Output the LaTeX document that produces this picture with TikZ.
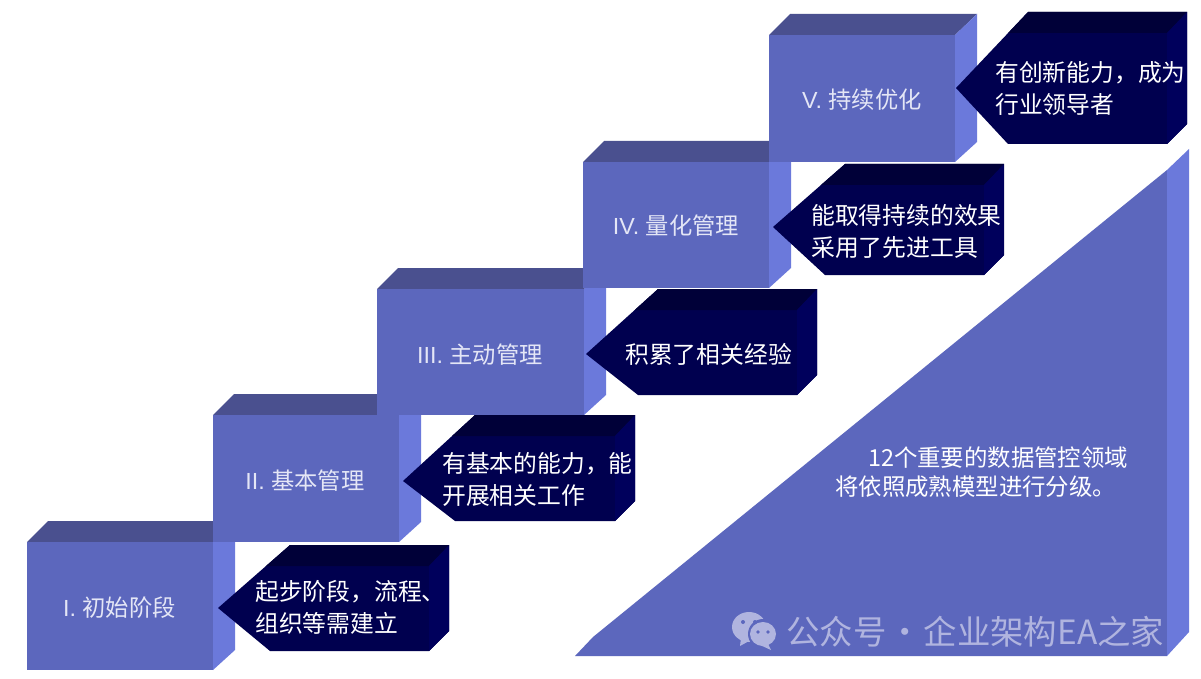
\documentclass[tikz,border=0pt]{standalone}
\usepackage{fontspec}
\setmainfont{Liberation Sans}
\newfontfamily\cjk{Noto Sans CJK SC}
\definecolor{bfront}{HTML}{5C67BD}
\definecolor{bside}{HTML}{6B79DB}
\definecolor{btop}{HTML}{4A508F}
\definecolor{cfront}{HTML}{00004F}
\definecolor{cside}{HTML}{00005C}
\definecolor{ctop}{HTML}{000038}
\definecolor{wm}{HTML}{B0B4DF}
\definecolor{lbl}{HTML}{E4E6F6}
\tikzset{
  x=1pt,y=-1pt,
  boxlabel/.style={text=lbl,font=\fontsize{23.3}{27}\selectfont,inner sep=0pt},
  calllabel/.style={text=white,font=\cjk\fontsize{23.8}{32}\selectfont,align=left,anchor=west,inner sep=0pt},
  arealabel/.style={text=white,font=\cjk\fontsize{23.4}{29}\selectfont,align=left,anchor=west,inner sep=0pt},
  wmlabel/.style={text=wm,font=\cjk\fontsize{33.4}{36}\selectfont,anchor=west,inner sep=0pt},
}
% box: x0 y0 x1 y1 of the front face
\newcommand{\stepblock}[4]{%
  \fill[btop] (#1,#2) -- (#1+21,#2-21) -- (#3+22,#2-21) -- (#3,#2) -- cycle;
  \fill[bside] (#3,#2) -- (#3+22,#2-21) -- (#3+22,#4-20) -- (#3,#4) -- cycle;
  \fill[bfront] (#1,#2) rectangle (#3,#4);
}
% callout: tip x, tip y, top-left x, top y, right x, bottom y, bottom-left x
\newcommand{\callblock}[7]{%
  \fill[cfront] (#1,#2) -- (#3,#4) -- (#5,#4) -- (#5,#6-20) -- (#5-20,#6) -- (#7,#6) -- cycle;
  \begin{scope}
    \clip (#1,#2) -- (#3,#4) -- (#5,#4) -- (#5,#6-20) -- (#5-20,#6) -- (#7,#6) -- cycle;
    \fill[ctop] (#3,#4) -- (#5,#4) -- (#5-20,#4+21) -- (#3-40,#4+21) -- cycle;
    \fill[cside] (#5,#4) -- (#5,#6-20) -- (#5-20,#6) -- (#5-20,#4+21) -- cycle;
  \end{scope}
}
\begin{document}
\begin{tikzpicture}
\useasboundingbox (0,0) rectangle (1201,679);
\fill[white] (0,0) rectangle (1201,679);
% triangle
\fill[bfront] (575,656) -- (593,637) -- (1167,170) -- (1167,656) -- cycle;
\fill[bside] (1167,170) -- (1189,149) -- (1189,632) -- (1167,656) -- cycle;
% step blocks
\stepblock{27}{542}{213}{670}
\stepblock{213}{415}{399}{542}
\stepblock{377}{289}{584}{415}
\stepblock{583}{162}{769}{288}
\stepblock{769}{35}{955}{162}
% callouts
\callblock{218}{608}{290}{545}{449}{651}{270}
\callblock{403}{481}{475}{415}{635}{521}{455}
\callblock{586}{354}{658}{289}{817}{395}{638}
\callblock{773}{227}{845}{164}{1004}{275}{825}
\callblock{956}{88}{1028}{12}{1187}{144}{1008}
% box labels
\node[boxlabel] (l1) at (119.5,608) {I. {\cjk 初始阶段}};
\node[boxlabel] (l2) at (305,481) {II. {\cjk 基本管理}};
\node[boxlabel] (l3) at (480,355) {III. {\cjk 主动管理}};
\node[boxlabel] (l4) at (676,226) {IV. {\cjk 量化管理}};
\node[boxlabel] (l5) at (862,100) {V. {\cjk 持续优化}};
% callout labels
\node[calllabel] (c1) at (255,607.5) {起步阶段，流程、\\组织等需建立};
\node[calllabel] (c2) at (442,479.5) {有基本的能力，能\\开展相关工作};
\node[calllabel] (c3) at (625,354) {积累了相关经验};
\node[calllabel] (c4) at (811,231.5) {能取得持续的效果\\采用了先进工具};
\node[calllabel] (c5) at (995,88.5) {有创新能力，成为\\行业领导者};
% area label
\node[arealabel] (a1) at (835,472) {\hspace*{33pt}12个重要的数据管控领域\\将依照成熟模型进行分级。};
% watermark
\fill[wm] (749,627) circle[x radius=17,y radius=15];
\fill[wm] (741,638) -- (740,646) -- (749,641) -- cycle;
\fill[bfront] (763,634) circle[radius=15];
\fill[wm] (763,634) circle[x radius=13,y radius=12];
\fill[wm] (768,644) -- (771,650) -- (760,645) -- cycle;
\fill[bfront] (743,622) circle[radius=2] (755,622) circle[radius=2] (758,632) circle[radius=1.8] (768,632) circle[radius=1.8];
\node[wmlabel] (w1) at (786,632) {公众号\hspace{2pt}·\hspace{2pt}企业架构EA之家};
\end{tikzpicture}
\end{document}
